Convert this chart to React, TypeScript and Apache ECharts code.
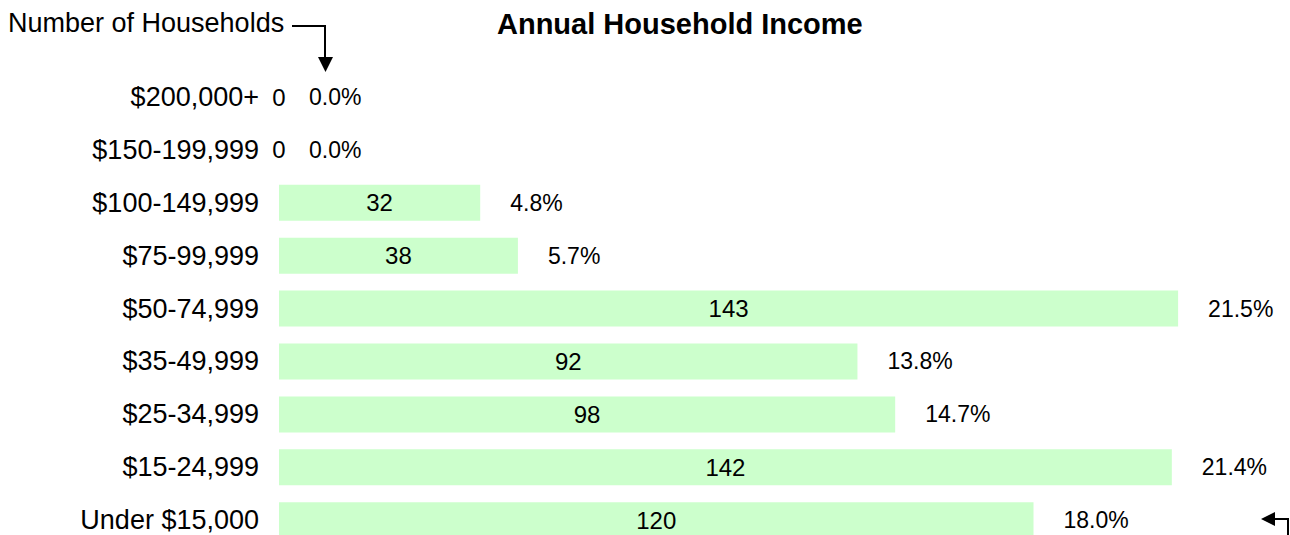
import React, { useEffect, useRef } from "react";
import * as echarts from "echarts";

const categories = [
  "$200,000+",
  "$150-199,999",
  "$100-149,999",
  "$75-99,999",
  "$50-74,999",
  "$35-49,999",
  "$25-34,999",
  "$15-24,999",
  "Under $15,000",
];
const households = [0, 0, 32, 38, 143, 92, 98, 142, 120];
const percents = ["0.0%", "0.0%", "4.8%", "5.7%", "21.5%", "13.8%", "14.7%", "21.4%", "18.0%"];

export default function App() {
  const ref = useRef<HTMLDivElement>(null);
  useEffect(() => {
    if (!ref.current) return;
    const chart = echarts.init(ref.current, null, { renderer: "svg" });
    const font = "Liberation Sans, Arial, sans-serif";
    chart.setOption({
      animation: false,
      textStyle: { fontFamily: font },
      title: {
        text: "Annual Household Income",
        left: 492,
        top: 4,
        textStyle: { fontSize: 29, fontWeight: "bold", color: "#000", fontFamily: font },
      },
      grid: { left: 279, top: 70.6, width: 1006, height: 476, containLabel: false },
      xAxis: {
        type: "value",
        min: 0,
        max: 160,
        show: false,
      },
      yAxis: {
        type: "category",
        data: categories,
        inverse: true,
        axisLine: { show: false },
        axisTick: { show: false },
        splitLine: { show: false },
        axisLabel: { color: "#000", fontSize: 27, margin: 20, fontFamily: font },
      },
      series: [
        {
          type: "bar",
          data: households,
          barWidth: 36,
          itemStyle: { color: "#CCFFCC" },
          label: {
            show: true,
            position: "inside",
            color: "#000",
            fontSize: 24,
            fontFamily: font,
          },
        },
        {
          type: "bar",
          data: households,
          barWidth: 36,
          barGap: "-100%",
          itemStyle: { color: "rgba(0,0,0,0)" },
          label: {
            show: true,
            position: "right",
            distance: 30,
            color: "#000",
            fontSize: 23,
            fontFamily: font,
            formatter: (p: any) => percents[p.dataIndex],
          },
        },
      ],
      graphic: [
        {
          type: "text",
          left: 8,
          top: 9,
          style: { text: "Number of Households", fontSize: 27, fill: "#000", fontFamily: font },
        },
        {
          type: "polyline",
          shape: { points: [[292, 26], [325, 26], [325, 60]] },
          style: { stroke: "#000", lineWidth: 2, fill: "none" },
        },
        {
          type: "polygon",
          shape: { points: [[318, 57], [333, 57], [325.5, 72]] },
          style: { fill: "#000" },
        },
        {
          type: "polyline",
          shape: { points: [[1274, 519], [1288, 519], [1288, 540]] },
          style: { stroke: "#000", lineWidth: 2, fill: "none" },
        },
        {
          type: "polygon",
          shape: { points: [[1261, 519], [1275, 512], [1275, 526]] },
          style: { fill: "#000" },
        },
      ],
    });
    return () => chart.dispose();
  }, []);
  return (
    <div
      ref={ref}
      style={{ position: "fixed", left: 0, top: 0, width: 1290, height: 560, background: "#fff" }}
    />
  );
}
